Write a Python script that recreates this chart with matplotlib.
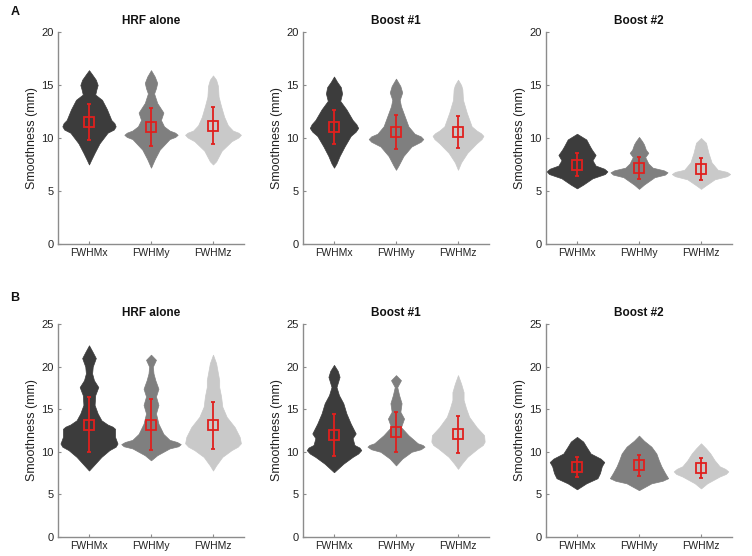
import matplotlib
matplotlib.use("Agg")
import matplotlib.pyplot as plt
import numpy as np

plt.rcParams['font.family'] = ['Liberation Sans', 'DejaVu Sans']

categories = ["FWHMx", "FWHMy", "FWHMz"]
panel_titles = ["HRF alone", "Boost #1", "Boost #2"]
row_labels = ["A", "B"]
row_ylims = [20, 25]
row_yticks = [[0, 5, 10, 15, 20], [0, 5, 10, 15, 20, 25]]
colors = ["#3c3c3c", "#7f7f7f", "#c9c9c9"]

# Violin profiles: (levels in mm, half-width in category units)
A_hrf = [
    ([7.5, 8.0, 8.6, 9.5, 10.5, 10.8, 11.1, 11.4, 11.7, 12.7, 13.6, 14.1, 14.6, 15.0, 15.5, 16.0, 16.4],
     [0, 0.04, 0.09, 0.17, 0.30, 0.40, 0.43, 0.41, 0.36, 0.29, 0.21, 0.10, 0.12, 0.14, 0.11, 0.05, 0]),
    ([7.2, 8.0, 8.9, 9.9, 10.1, 10.3, 10.5, 10.7, 11.1, 11.7, 12.4, 13.3, 14.2, 14.7, 15.2, 15.8, 16.4],
     [0, 0.06, 0.14, 0.30, 0.39, 0.43, 0.39, 0.30, 0.21, 0.16, 0.20, 0.10, 0.05, 0.08, 0.10, 0.06, 0]),
    ([7.5, 7.8, 8.8, 9.7, 10.05, 10.3, 10.5, 10.7, 11.2, 12.0, 13.0, 13.9, 14.9, 15.5, 15.9],
     [0, 0.05, 0.14, 0.30, 0.41, 0.45, 0.41, 0.32, 0.24, 0.18, 0.13, 0.09, 0.08, 0.05, 0]),
]
A_b1 = [
    ([7.2, 7.6, 8.3, 9.2, 10.2, 10.6, 10.95, 11.3, 11.7, 12.7, 13.5, 14.2, 14.8, 15.3, 15.8],
     [0, 0.04, 0.09, 0.17, 0.27, 0.35, 0.39, 0.36, 0.30, 0.20, 0.10, 0.13, 0.11, 0.05, 0]),
    ([7.0, 7.4, 8.3, 9.2, 9.65, 9.9, 10.15, 10.4, 11.1, 12.05, 13.0, 13.6, 14.3, 14.9, 15.6],
     [0, 0.04, 0.12, 0.25, 0.40, 0.44, 0.40, 0.30, 0.20, 0.14, 0.08, 0.06, 0.10, 0.07, 0]),
    ([7.0, 7.7, 8.6, 9.5, 9.9, 10.2, 10.45, 10.7, 11.1, 12.4, 13.6, 14.6, 15.0, 15.5],
     [0, 0.05, 0.15, 0.30, 0.38, 0.41, 0.37, 0.30, 0.22, 0.14, 0.08, 0.07, 0.05, 0]),
]
A_b2 = [
    ([5.25, 5.6, 6.2, 6.6, 6.85, 7.1, 7.4, 7.9, 8.4, 8.9, 9.2, 9.86, 10.4],
     [0, 0.10, 0.25, 0.45, 0.49, 0.44, 0.30, 0.25, 0.30, 0.24, 0.21, 0.15, 0]),
    ([5.2, 5.6, 6.3, 6.55, 6.76, 6.95, 7.2, 7.6, 8.2, 8.6, 8.9, 9.4, 9.7, 10.1],
     [0, 0.08, 0.25, 0.42, 0.46, 0.40, 0.22, 0.15, 0.10, 0.15, 0.11, 0.08, 0.05, 0]),
    ([5.2, 5.5, 6.1, 6.4, 6.6, 6.8, 7.0, 7.7, 8.6, 9.55, 10.0],
     [0, 0.07, 0.22, 0.42, 0.47, 0.42, 0.27, 0.17, 0.12, 0.08, 0]),
]
B_hrf = [
    ([7.8, 8.6, 9.4, 10.2, 10.6, 10.97, 11.75, 12.7, 12.95, 13.2, 13.7, 14.5, 15.5, 16.65, 17.6, 18.4, 19.2, 20.0, 21.0, 21.7, 22.5],
     [0, 0.10, 0.20, 0.33, 0.43, 0.46, 0.42, 0.42, 0.38, 0.30, 0.20, 0.14, 0.09, 0.10, 0.15, 0.08, 0.05, 0.06, 0.11, 0.06, 0]),
    ([9.0, 9.6, 10.4, 10.65, 10.9, 11.15, 11.4, 12.1, 13.3, 14.5, 15.5, 16.5, 17.4, 18.4, 19.2, 20.0, 20.8, 21.4],
     [0, 0.10, 0.30, 0.44, 0.48, 0.42, 0.30, 0.20, 0.12, 0.08, 0.12, 0.08, 0.12, 0.07, 0.04, 0.03, 0.08, 0]),
    ([7.8, 8.4, 9.4, 10.2, 10.6, 11.0, 11.75, 12.9, 14.1, 15.3, 16.5, 17.6, 18.4, 19.2, 20.4, 21.4],
     [0, 0.05, 0.15, 0.30, 0.40, 0.45, 0.43, 0.35, 0.22, 0.15, 0.13, 0.10, 0.10, 0.08, 0.05, 0]),
]
B_b1 = [
    ([7.6, 8.6, 9.4, 9.8, 10.2, 10.5, 10.8, 11.6, 12.15, 13.3, 14.5, 15.7, 16.65, 17.6, 18.8, 19.5, 20.2],
     [0, 0.15, 0.30, 0.39, 0.44, 0.41, 0.33, 0.30, 0.35, 0.27, 0.20, 0.15, 0.08, 0.04, 0.09, 0.06, 0]),
    ([8.4, 9.2, 10.0, 10.3, 10.6, 10.8, 11.0, 11.95, 12.9, 13.9, 14.7, 15.7, 16.65, 17.6, 18.4, 19.0],
     [0, 0.10, 0.25, 0.40, 0.46, 0.43, 0.35, 0.20, 0.08, 0.13, 0.07, 0.09, 0.05, 0.02, 0.08, 0]),
    ([8.0, 8.6, 9.4, 10.4, 10.8, 11.2, 11.95, 12.9, 14.1, 15.1, 16.1, 17.0, 18.0, 19.0],
     [0, 0.06, 0.15, 0.32, 0.40, 0.43, 0.42, 0.30, 0.18, 0.13, 0.09, 0.09, 0.05, 0]),
]
B_b2 = [
    ([5.6, 6.3, 6.9, 7.5, 8.3, 8.8, 9.2, 9.8, 10.6, 11.2, 11.75],
     [0, 0.15, 0.33, 0.37, 0.40, 0.44, 0.38, 0.22, 0.15, 0.10, 0]),
    ([5.5, 6.3, 6.6, 6.9, 7.5, 8.3, 9.0, 9.8, 10.6, 11.3, 11.9],
     [0, 0.20, 0.38, 0.47, 0.42, 0.36, 0.32, 0.28, 0.20, 0.08, 0]),
    ([5.7, 6.3, 7.1, 7.4, 7.7, 8.0, 8.3, 9.0, 9.8, 10.4, 11.0],
     [0, 0.10, 0.30, 0.40, 0.44, 0.39, 0.30, 0.22, 0.15, 0.08, 0]),
]

# Means and spread (error bars)
A_hrf_mean, A_hrf_sd = [11.5, 11.05, 11.15], [1.7, 1.8, 1.75]
A_b1_mean, A_b1_sd = [11.0, 10.6, 10.55], [1.6, 1.6, 1.5]
A_b2_mean, A_b2_sd = [7.5, 7.2, 7.1], [1.05, 1.05, 1.05]
B_hrf_mean, B_hrf_sd = [13.2, 13.2, 13.1], [3.25, 3.0, 2.8]
B_b1_mean, B_b1_sd = [12.0, 12.3, 12.05], [2.45, 2.35, 2.2]
B_b2_mean, B_b2_sd = [8.2, 8.4, 8.1], [1.2, 1.25, 1.15]

profiles = [[A_hrf, A_b1, A_b2], [B_hrf, B_b1, B_b2]]
means = [[A_hrf_mean, A_b1_mean, A_b2_mean], [B_hrf_mean, B_b1_mean, B_b2_mean]]
sds = [[A_hrf_sd, A_b1_sd, A_b2_sd], [B_hrf_sd, B_b1_sd, B_b2_sd]]

W, H = 752, 556
fig = plt.figure(figsize=(W / 100, H / 100), dpi=100)

lefts = [58, 303, 546]
ax_w = 186
row_box = [(32, 244), (324, 537)]  # top, bottom in pixels
red = "#e0201e"
spine_c = "#8c8c8c"
txt_c = "#222222"

for r in range(2):
    top, bot = row_box[r]
    for c in range(3):
        ax = fig.add_axes([lefts[c] / W, (H - bot) / H, ax_w / W, (bot - top) / H])
        positions = [1, 2, 3]
        vpstats = []
        wlist = []
        for k, (lev, hw) in enumerate(profiles[r][c]):
            lev = np.array(lev, float)
            hw = np.array(hw, float)
            vpstats.append(dict(coords=lev, vals=hw, mean=means[r][c][k],
                                median=means[r][c][k], min=lev.min(), max=lev.max()))
            wlist.append(2 * hw.max())
        parts = ax.violin(vpstats, positions=positions, widths=wlist,
                          showmeans=False, showextrema=False, showmedians=False)
        for k, body in enumerate(parts['bodies']):
            body.set_facecolor(colors[k])
            body.set_edgecolor(colors[k])
            body.set_linewidth(0.5)
            body.set_alpha(1)
        ax.errorbar(positions, means[r][c], yerr=sds[r][c], fmt='s', color=red,
                    ecolor=red, elinewidth=1.3, capsize=1.2, capthick=1.3,
                    markersize=6.5, markerfacecolor='none', markeredgecolor=red,
                    markeredgewidth=1.3, zorder=5)
        ax.set_xlim(0.5, 3.5)
        ax.set_ylim(0, row_ylims[r])
        ax.set_yticks(row_yticks[r])
        ax.set_xticks(positions)
        ax.set_xticklabels(categories, fontsize=7.5, color=txt_c)
        ax.tick_params(axis='y', labelsize=8, labelcolor=txt_c, pad=3)
        ax.tick_params(axis='x', pad=3)
        ax.tick_params(direction='in', length=2.5, color=spine_c, width=0.8)
        for s in ['top', 'right']:
            ax.spines[s].set_visible(False)
        for s in ['left', 'bottom']:
            ax.spines[s].set_color(spine_c)
            ax.spines[s].set_linewidth(1.0)
        ax.set_ylabel("Smoothness (mm)", fontsize=9, color=txt_c, labelpad=2.5)
        ax.set_title(panel_titles[c], fontsize=8.5, fontweight='bold', pad=6, color="#111111")
    fig.text(15 / W, 1 - (12 if r == 0 else 298) / H, row_labels[r], fontsize=9,
             fontweight='bold', ha='center', va='center', color="#111111")

fig.savefig("out.png", dpi=100, facecolor='white')
